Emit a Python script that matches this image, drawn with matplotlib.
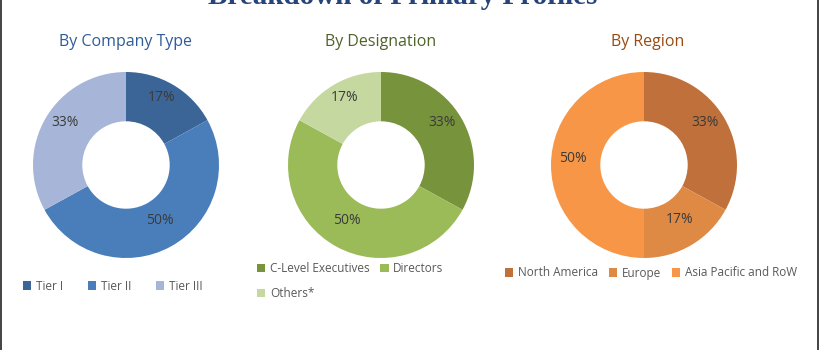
import matplotlib
matplotlib.use("Agg")
import matplotlib.pyplot as plt
from matplotlib.lines import Line2D

W, H = 820, 350
DPI = 100

title = "Breakdown of Primary Profiles"

company_labels = ["Tier I", "Tier II", "Tier III"]
company_values = [17, 50, 33]
company_colors = ["#3C6597", "#4A7EBB", "#A7B6D8"]

designation_labels = ["C-Level Executives", "Directors", "Others*"]
designation_values = [33, 50, 17]
designation_colors = ["#77933C", "#9BBB59", "#C5D8A0"]

region_labels = ["North America", "Europe", "Asia Pacific and RoW"]
region_values = [33, 17, 50]
region_colors = ["#C0703A", "#DE8A45", "#F79646"]

subtitles = ["By Company Type", "By Designation", "By Region"]
subtitle_colors = ["#2F5C96", "#4F6228", "#9A4A10"]

plt.rcParams['font.family'] = ['Open Sans', 'DejaVu Sans']

fig = plt.figure(figsize=(W / DPI, H / DPI), dpi=DPI)

def px_axes(cx, cy, r):
    return fig.add_axes([(cx - r) / W, (H - cy - r) / H, 2 * r / W, 2 * r / H])

charts = [
    (company_labels, company_values, company_colors, 126, 165, subtitles[0], subtitle_colors[0], 126),
    (designation_labels, designation_values, designation_colors, 381, 165, subtitles[1], subtitle_colors[1], 381),
    (region_labels, region_values, region_colors, 644, 165, subtitles[2], subtitle_colors[2], 648),
]

axes = []
for labels, vals, cols, cx, cy, sub, subc, sx in charts:
    ax = px_axes(cx, cy, 93)
    wedges, texts, autotexts = ax.pie(
        vals, colors=cols, startangle=90, counterclock=False, radius=1,
        autopct=lambda p: f"{p:.0f}%", pctdistance=0.76,
        wedgeprops=dict(width=0.53, edgecolor='none'),
        textprops=dict(fontsize=10, color='#3a3a3a'))
    for t in autotexts:
        x, y = t.get_position()
        t.set_position((x, y + 0.07))
    ax.set_xlim(-1, 1)
    ax.set_ylim(-1, 1)
    ax.set_aspect('equal')
    ax.axis('off')
    fig.text(sx / W, 1 - 42 / H, sub, ha='center', va='center', fontsize=11.5, color=subc)
    axes.append((ax, wedges, labels))

fig.text(403 / W, 1 - 4 / H, title, ha='center', va='baseline', fontsize=21,
         fontweight='bold', family=['Liberation Serif'], color='#27447A')

leg_kw = dict(frameon=False, fontsize=8.5, handlelength=0.7, handleheight=0.7,
              handletextpad=0.4, labelcolor='#595959', borderpad=0, borderaxespad=0)

# legend 1
ax, wedges, labels = axes[0]
fig.legend(wedges, labels, ncol=3, loc='center left',
           bbox_to_anchor=(23 / W, 1 - 286 / H), columnspacing=2.1, **leg_kw)

# legend 2 (row-major order: C-Level, Directors / Others)
ax, wedges, labels = axes[1]
fig.legend([wedges[0], wedges[2], wedges[1]], [labels[0], labels[2], labels[1]], ncol=2,
           loc='upper left', bbox_to_anchor=(257 / W, 1 - 262 / H), columnspacing=0.9,
           labelspacing=1.0, **leg_kw)

# legend 3
ax, wedges, labels = axes[2]
fig.legend(wedges, labels, ncol=3, loc='center left',
           bbox_to_anchor=(505 / W, 1 - 273 / H), columnspacing=0.9, **leg_kw)

# frame lines at left and right edges
fig.add_artist(Line2D([1.5 / W, 1.5 / W], [0, 1], transform=fig.transFigure, color='#222222', lw=1.2))
fig.add_artist(Line2D([818.5 / W, 818.5 / W], [0, 1], transform=fig.transFigure, color='#222222', lw=1.2))

fig.savefig("out.png", dpi=DPI)
